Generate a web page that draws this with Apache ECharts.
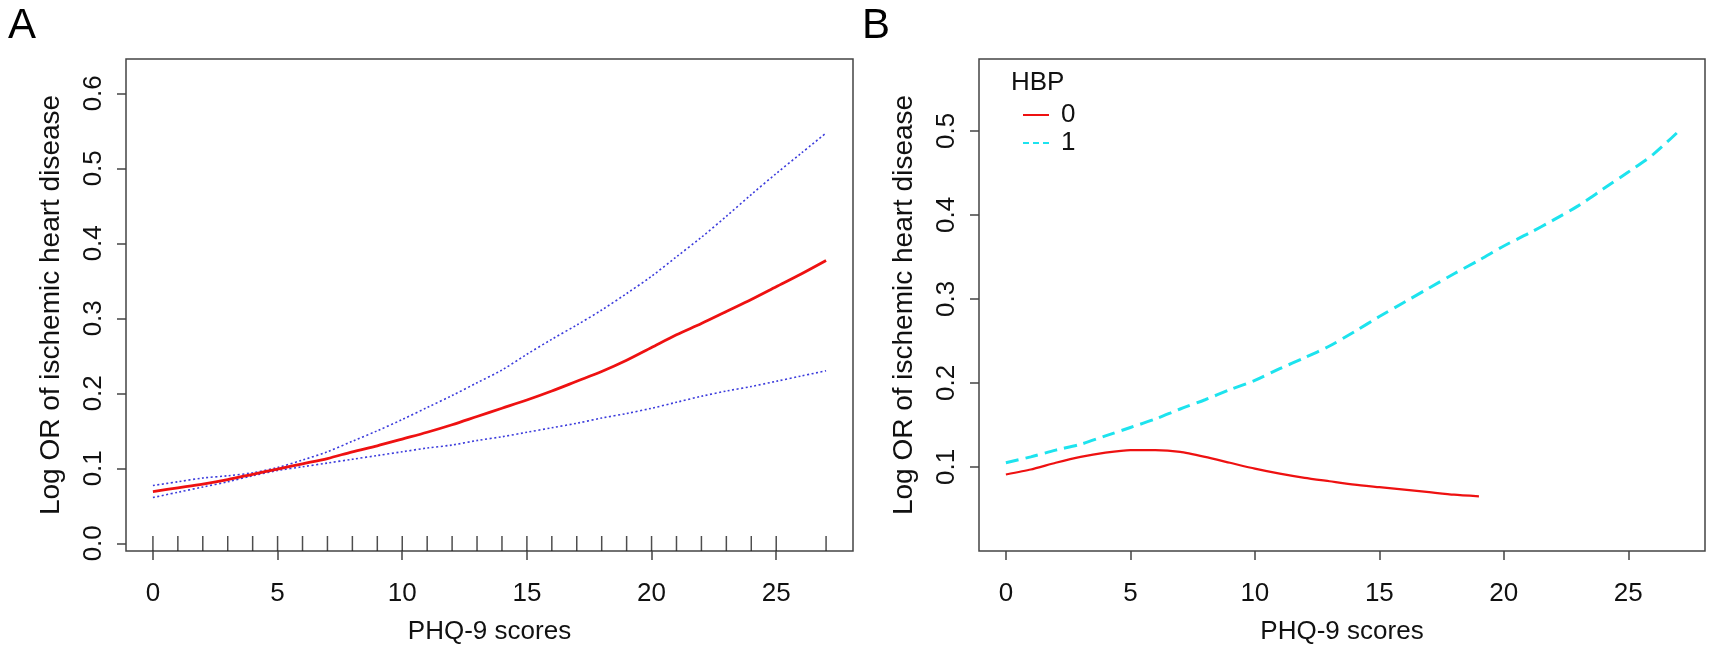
<!DOCTYPE html>
<html>
<head>
<meta charset="utf-8">
<script src="https://cdn.jsdelivr.net/npm/echarts@6/dist/echarts.min.js"></script>
<style>
  html, body { margin: 0; padding: 0; background: #fff; }
  #chart { width: 1713px; height: 651px; }
</style>
</head>
<body>
<div id="chart"></div>
<script>
// PHQ-9 score grid (x)
const scores = [0, 1, 2, 3, 4, 5, 6, 7, 8, 9, 10, 11, 12, 13, 14, 15, 16, 17, 18, 19, 20, 21, 22, 23, 24, 25, 26, 27];
// observed scores shown as rug in panel A
const rugScores = [0, 1, 2, 3, 4, 5, 6, 7, 8, 9, 10, 11, 12, 13, 14, 15, 16, 17, 18, 19, 20, 21, 22, 23, 24, 25, 27];

// panel A: overall fit + 95% CI
const fitA = [0.069, 0.074, 0.079, 0.085, 0.092, 0.099, 0.106, 0.113, 0.122, 0.130, 0.139, 0.148, 0.158, 0.169,
  0.180, 0.191, 0.203, 0.216, 0.229, 0.244, 0.261, 0.278, 0.293, 0.309, 0.325, 0.342, 0.359, 0.377];
const upperA = [0.077, 0.082, 0.087, 0.090, 0.094, 0.101, 0.111, 0.122, 0.136, 0.150, 0.165, 0.181, 0.197, 0.214,
  0.231, 0.252, 0.272, 0.291, 0.311, 0.333, 0.356, 0.382, 0.408, 0.436, 0.465, 0.493, 0.520, 0.547];
const lowerA = [0.061, 0.068, 0.075, 0.082, 0.090, 0.097, 0.102, 0.107, 0.112, 0.117, 0.122, 0.127, 0.131, 0.137,
  0.142, 0.148, 0.154, 0.160, 0.167, 0.173, 0.180, 0.188, 0.196, 0.203, 0.209, 0.216, 0.223, 0.230];

// panel B: by HBP group
const hbp0 = [0.091, 0.097, 0.105, 0.112, 0.117, 0.120, 0.120, 0.118, 0.112, 0.105, 0.098, 0.092, 0.087, 0.083,
  0.079, 0.076, 0.073, 0.070, 0.067, 0.065];
const hbp1 = [0.105, 0.112, 0.120, 0.127, 0.137, 0.147, 0.157, 0.169, 0.180, 0.192, 0.203, 0.217, 0.230, 0.244,
  0.261, 0.279, 0.296, 0.313, 0.330, 0.346, 0.363, 0.378, 0.394, 0.411, 0.431, 0.451, 0.472, 0.499];

const xTicks = [0, 5, 10, 15, 20, 25];
const yTicksA = [0, 0.1, 0.2, 0.3, 0.4, 0.5, 0.6];
const yTicksB = [0.1, 0.2, 0.3, 0.4, 0.5];

const FONT = "'Liberation Sans', Arial, Helvetica, sans-serif";
const AXIS_COLOR = "#444";
const yMinA = -0.0103, yMaxA = 0.6457;
const yMinB = 0.0, yMaxB = 0.5855;

const pairs = (xs, ys) => ys.map((y, i) => [xs[i], y]);

function xAxisFor(gridIndex) {
  return {
    type: "value", gridIndex, min: -1.08, max: 28.08,
    name: "PHQ-9 scores", nameLocation: "middle", nameGap: 68,
    nameTextStyle: { fontFamily: FONT, fontSize: 26, color: "#111" },
    axisLine: { show: false, onZero: false },
    splitLine: { show: false },
    axisTick: { show: true, length: 9, customValues: xTicks, lineStyle: { color: AXIS_COLOR, width: 1.5 } },
    axisLabel: { customValues: xTicks, margin: 30, fontFamily: FONT, fontSize: 26, color: "#111" },
  };
}

function yAxisFor(gridIndex, min, max, ticks) {
  return {
    type: "value", gridIndex, min, max,
    name: "Log OR of ischemic heart disease", nameLocation: "middle", nameGap: 61,
    nameTextStyle: { fontFamily: FONT, fontSize: 28, color: "#111" },
    axisLine: { show: false, onZero: false },
    splitLine: { show: false },
    axisTick: { show: true, length: 9, customValues: ticks, lineStyle: { color: AXIS_COLOR, width: 1.5 } },
    axisLabel: {
      customValues: ticks, rotate: 90, margin: 19, fontFamily: FONT, fontSize: 26, color: "#111",
      formatter: (v) => v.toFixed(1),
    },
  };
}

const chart = echarts.init(document.getElementById("chart"));
chart.setOption({
  animation: false,
  backgroundColor: "#fff",
  title: [
    { text: "A", left: 3, top: 0, textStyle: { fontFamily: FONT, fontSize: 42, fontWeight: "normal", color: "#000" } },
    { text: "B", left: 857, top: 0, textStyle: { fontFamily: FONT, fontSize: 42, fontWeight: "normal", color: "#000" } },
  ],
  graphic: [
    { type: "text", left: 1011, top: 70, style: { text: "HBP", font: "26px " + FONT, fill: "#111" } },
  ],
  legend: {
    data: [
      { name: "0" },
      { name: "1", lineStyle: { type: [6, 4] } },
    ],
    orient: "vertical", left: 1017, top: 97,
    itemWidth: 26, itemHeight: 14, itemGap: 2,
    itemStyle: { opacity: 0 },
    textStyle: { fontFamily: FONT, fontSize: 26, color: "#111", padding: [0, 0, 0, 7] },
  },
  grid: [
    { left: 126, top: 59, width: 727, height: 492, show: true, borderColor: AXIS_COLOR, borderWidth: 1.5 },
    { left: 979, top: 59, width: 726, height: 492, show: true, borderColor: AXIS_COLOR, borderWidth: 1.5 },
  ],
  xAxis: [xAxisFor(0), xAxisFor(1)],
  yAxis: [yAxisFor(0, yMinA, yMaxA, yTicksA), yAxisFor(1, yMinB, yMaxB, yTicksB)],
  series: [
    {
      name: "rug", type: "scatter", xAxisIndex: 0, yAxisIndex: 0, clip: false,
      symbol: "rect", symbolSize: [1.5, 15], symbolOffset: [0, -7.5],
      itemStyle: { color: "#222" },
      data: rugScores.map((s) => [s, yMinA]),
    },
    {
      name: "upper", type: "line", xAxisIndex: 0, yAxisIndex: 0, symbol: "none", smooth: 0.3,
      lineStyle: { color: "#3b3bdc", width: 1.6, type: [2, 2.5] },
      data: pairs(scores, upperA),
    },
    {
      name: "lower", type: "line", xAxisIndex: 0, yAxisIndex: 0, symbol: "none", smooth: 0.3,
      lineStyle: { color: "#3b3bdc", width: 1.6, type: [2, 2.5] },
      data: pairs(scores, lowerA),
    },
    {
      name: "fit", type: "line", xAxisIndex: 0, yAxisIndex: 0, symbol: "none", smooth: 0.3,
      lineStyle: { color: "#ee1111", width: 2.8 },
      data: pairs(scores, fitA),
    },
    {
      name: "0", type: "line", xAxisIndex: 1, yAxisIndex: 1, symbol: "none", smooth: 0.2,
      itemStyle: { color: "#ee1111" },
      lineStyle: { color: "#ee1111", width: 2.2 },
      data: pairs(scores, hbp0),
    },
    {
      name: "1", type: "line", xAxisIndex: 1, yAxisIndex: 1, symbol: "none", smooth: 0.3,
      itemStyle: { color: "#1de3ee" },
      lineStyle: { color: "#1de3ee", width: 3, type: [13, 7] },
      data: pairs(scores, hbp1),
    },
  ],
});
</script>
</body>
</html>
